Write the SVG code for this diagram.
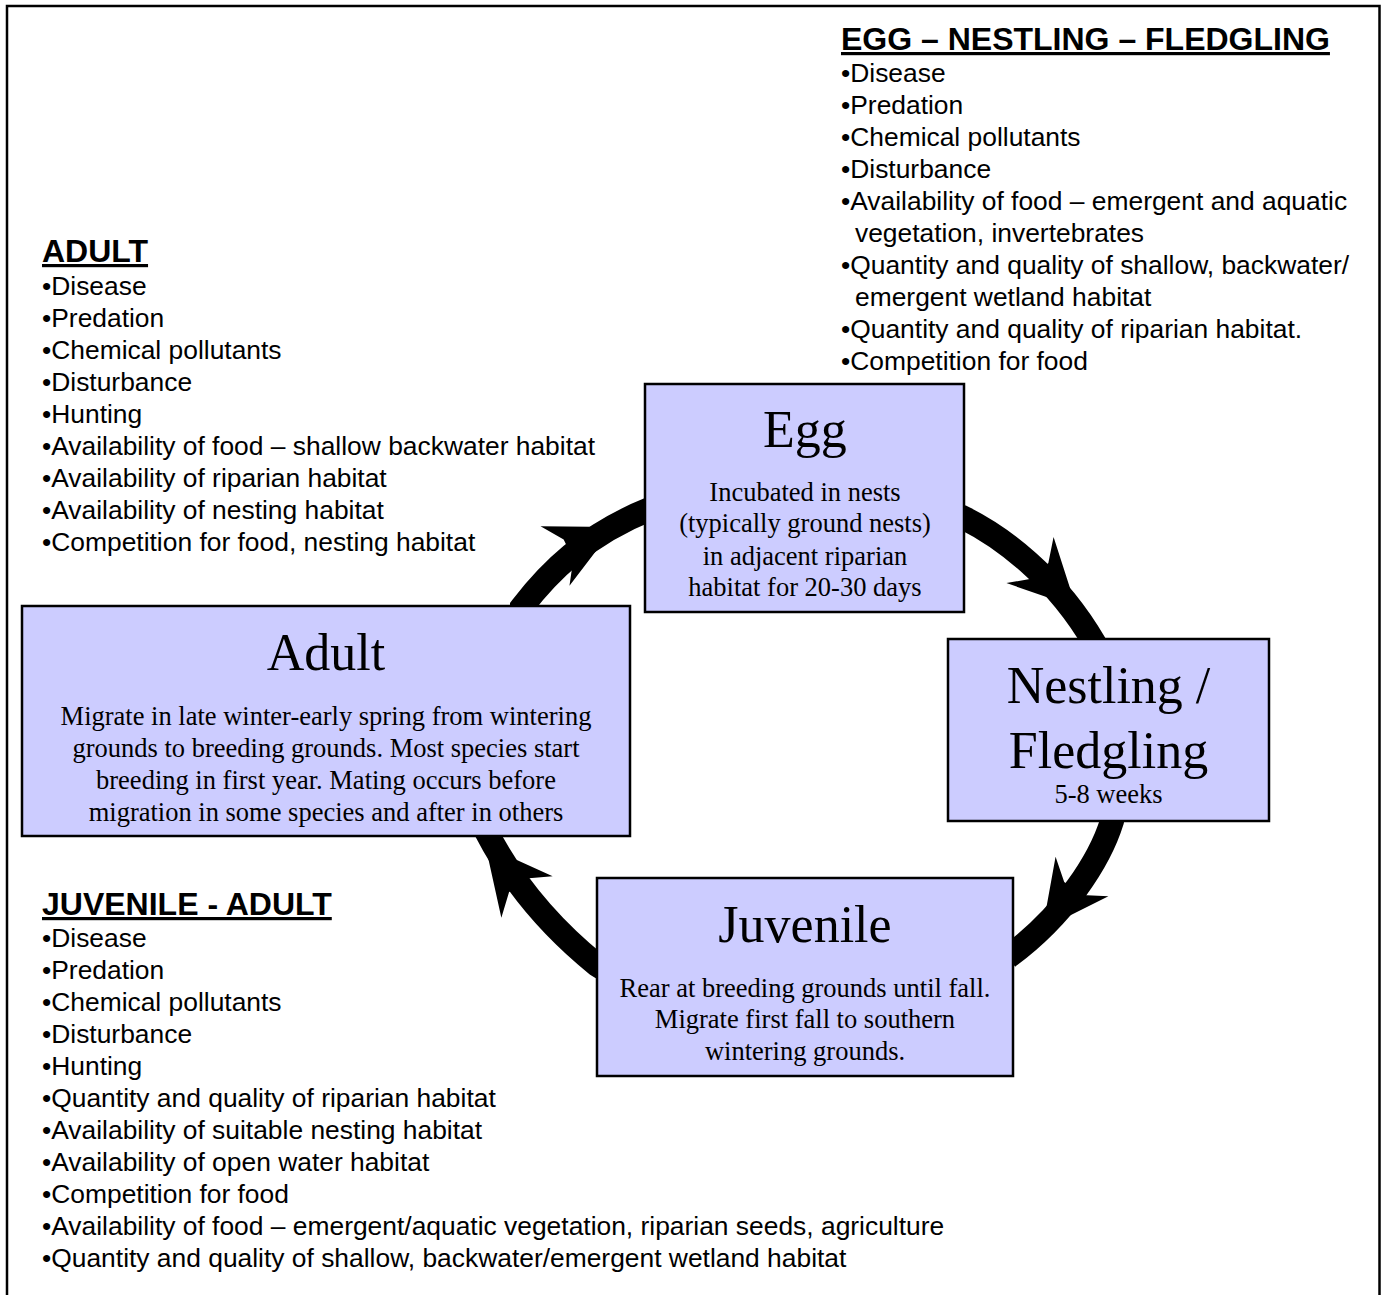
<svg xmlns="http://www.w3.org/2000/svg" xmlns:xlink="http://www.w3.org/1999/xlink" width="1381" height="1295" viewBox="0 0 1381 1295">
<style>
.box{fill:#ccccff;stroke:#000;stroke-width:2.5}
.title{font-family:"Liberation Serif","Times New Roman",serif;font-size:52px;text-anchor:middle;fill:#000}
.body{font-family:"Liberation Serif","Times New Roman",serif;font-size:26.5px;text-anchor:middle;fill:#000}
.head{font-family:"Liberation Sans",Arial,sans-serif;font-size:32px;font-weight:bold;text-decoration:underline;fill:#000}
.item{font-family:"Liberation Sans",Arial,sans-serif;font-size:26.4px;fill:#000}
.shaft{fill:none;stroke:#000;stroke-width:24}
</style>
<defs>
<path id="head" d="M66 0 L0 -33 L15 -11 L15 11 L0 33 Z" fill="#000"/>
</defs>
<rect x="7" y="6" width="1372.5" height="1300" fill="#fff" stroke="#000" stroke-width="2.5"/>

<g id="connectors">
<path class="shaft" d="M522 612 L522 607 C548 573 585 535 650 509"/>
<use xlink:href="#head" transform="translate(555 556) rotate(-26)"/>
<path class="shaft" d="M960 516 L964 518 C1000 536 1055 575 1095 644"/>
<use xlink:href="#head" transform="translate(1030 560) rotate(45.6)"/>
<path class="shaft" d="M1113 816 L1112 821 C1100 860 1065 915 1008 957"/>
<use xlink:href="#head" transform="translate(1082 876.5) rotate(126.8)"/>
<path class="shaft" d="M602 968 L597 965 C560 935 518 893 486 831"/>
<use xlink:href="#head" transform="translate(527 897) rotate(-129)"/>
</g>

<g id="egg">
<rect class="box" x="645" y="384" width="319" height="228"/>
<text class="title" x="805" y="447">Egg</text>
<text class="body" x="805" y="501">Incubated in nests</text>
<text class="body" x="805" y="532">(typically ground nests)</text>
<text class="body" x="805" y="565">in adjacent riparian</text>
<text class="body" x="805" y="596">habitat for 20-30 days</text>
</g>

<g id="nestling">
<rect class="box" x="948" y="639" width="321" height="182"/>
<text class="title" x="1108.5" y="703">Nestling /</text>
<text class="title" x="1108.5" y="768">Fledgling</text>
<text class="body" x="1108.5" y="803">5-8 weeks</text>
</g>

<g id="juvenile">
<rect class="box" x="597" y="878" width="416" height="198"/>
<text class="title" x="805" y="942">Juvenile</text>
<text class="body" x="805" y="997">Rear at breeding grounds until fall.</text>
<text class="body" x="805" y="1028">Migrate first fall to southern</text>
<text class="body" x="805" y="1060">wintering grounds.</text>
</g>

<g id="adult">
<rect class="box" x="22" y="606" width="608" height="230"/>
<text class="title" x="326" y="670">Adult</text>
<text class="body" x="326" y="725">Migrate in late winter-early spring from wintering</text>
<text class="body" x="326" y="757">grounds to breeding grounds. Most species start</text>
<text class="body" x="326" y="789">breeding in first year. Mating occurs before</text>
<text class="body" x="326" y="821">migration in some species and after in others</text>
</g>

<g id="egg-nestling-fledgling-factors">
<text class="head" x="841" y="50">EGG – NESTLING – FLEDGLING</text>
<text class="item" x="841" y="82">•Disease</text>
<text class="item" x="841" y="114">•Predation</text>
<text class="item" x="841" y="146">•Chemical pollutants</text>
<text class="item" x="841" y="178">•Disturbance</text>
<text class="item" x="841" y="210">•Availability of food – emergent and aquatic</text>
<text class="item" x="855" y="242">vegetation, invertebrates</text>
<text class="item" x="841" y="274">•Quantity and quality of shallow, backwater/</text>
<text class="item" x="855" y="306">emergent wetland habitat</text>
<text class="item" x="841" y="338">•Quantity and quality of riparian habitat.</text>
<text class="item" x="841" y="370">•Competition for food</text>
</g>

<g id="adult-factors">
<text class="head" x="42" y="262">ADULT</text>
<text class="item" x="42" y="295">•Disease</text>
<text class="item" x="42" y="327">•Predation</text>
<text class="item" x="42" y="359">•Chemical pollutants</text>
<text class="item" x="42" y="391">•Disturbance</text>
<text class="item" x="42" y="423">•Hunting</text>
<text class="item" x="42" y="455">•Availability of food – shallow backwater habitat</text>
<text class="item" x="42" y="487">•Availability of riparian habitat</text>
<text class="item" x="42" y="519">•Availability of nesting habitat</text>
<text class="item" x="42" y="551">•Competition for food, nesting habitat</text>
</g>

<g id="juvenile-adult-factors">
<text class="head" x="42" y="915">JUVENILE - ADULT</text>
<text class="item" x="42" y="947">•Disease</text>
<text class="item" x="42" y="979">•Predation</text>
<text class="item" x="42" y="1011">•Chemical pollutants</text>
<text class="item" x="42" y="1043">•Disturbance</text>
<text class="item" x="42" y="1075">•Hunting</text>
<text class="item" x="42" y="1107">•Quantity and quality of riparian habitat</text>
<text class="item" x="42" y="1139">•Availability of suitable nesting habitat</text>
<text class="item" x="42" y="1171">•Availability of open water habitat</text>
<text class="item" x="42" y="1203">•Competition for food</text>
<text class="item" x="42" y="1235">•Availability of food – emergent/aquatic vegetation, riparian seeds, agriculture</text>
<text class="item" x="42" y="1267">•Quantity and quality of shallow, backwater/emergent wetland habitat</text>
</g>
</svg>
